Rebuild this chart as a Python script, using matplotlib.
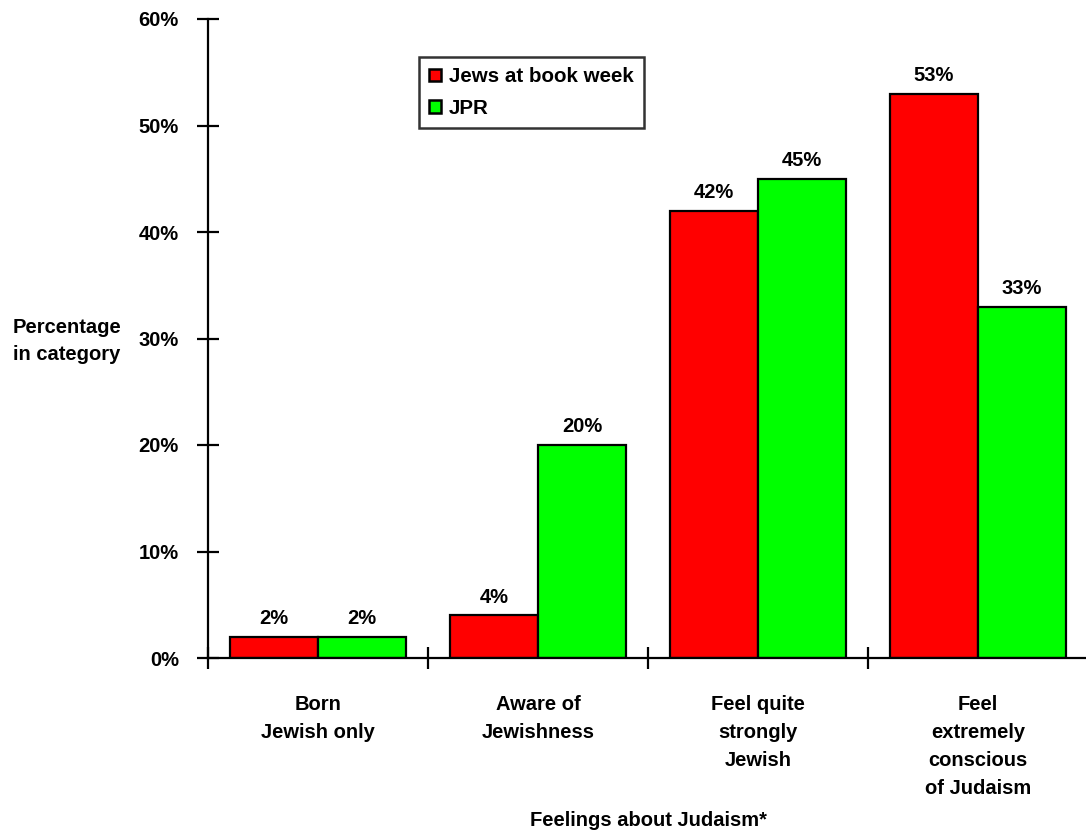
import numpy as np
import matplotlib.pyplot as plt
from matplotlib.patches import Patch

plt.rcParams['font.family'] = ['Liberation Sans', 'DejaVu Sans']
plt.rcParams['font.weight'] = 'bold'
FS = 14.5

categories = ["Born\nJewish only", "Aware of\nJewishness", "Feel quite\nstrongly\nJewish",
              "Feel\nextremely\nconscious\nof Judaism"]
book_week = [2, 4, 42, 53]
jpr = [2, 20, 45, 33]
series_names = ["Jews at book week", "JPR"]
colors = ["#ff0000", "#00ff00"]

fig = plt.figure(figsize=(10.86, 8.36), dpi=100)
ax = fig.add_axes([208/1086, 178/836, 880/1086, 639/836])

x = np.arange(len(categories))
w = 0.4
for vals, off, c in [(book_week, -w/2, colors[0]), (jpr, w/2, colors[1])]:
    bars = ax.bar(x + off, vals, width=w, color=c, edgecolor='black', linewidth=1.6)
    for b, v in zip(bars, vals):
        ax.text(b.get_x() + b.get_width()/2, v + 0.8, f"{v}%", ha='center', va='bottom',
                fontsize=FS, fontweight='bold')

ax.set_xlim(-0.5, 3.5)
ax.set_ylim(0, 60)
ax.set_yticks(range(0, 61, 10))
ax.set_yticklabels([f"{t}%" for t in range(0, 61, 10)], fontsize=FS, fontweight='bold')
ax.set_xticks(np.arange(-0.5, 3.6, 1.0))
ax.set_xticklabels([])
ax.tick_params(axis='both', direction='inout', length=16, width=1.6)
ax.tick_params(axis='y', pad=13)

for s in ['top', 'right']:
    ax.spines[s].set_visible(False)
for s in ['left', 'bottom']:
    ax.spines[s].set_linewidth(1.6)

for i, lab in enumerate(categories):
    ax.text(i, -3.45, lab, ha='center', va='top', fontsize=FS, fontweight='bold',
            linespacing=1.6, transform=ax.transData)

fig.text(648/1086, 1 - 820/836, "Feelings about Judaism*", ha='center', va='center',
         fontsize=FS, fontweight='bold')
fig.text(67/1086, 1 - 341/836, "Percentage\nin category", ha='center', va='center',
         fontsize=FS, fontweight='bold', linespacing=1.5)

handles = [Patch(facecolor=c, edgecolor='black', linewidth=1.8) for c in colors]
leg = ax.legend(handles, series_names, loc='upper left', bbox_to_anchor=(211/880, (658-57)/639),
                frameon=True, fancybox=False, edgecolor='black', fontsize=14.8,
                handlelength=0.55, handleheight=0.55, handletextpad=0.4, borderpad=0.5,
                labelspacing=0.6, borderaxespad=0)
leg.get_frame().set_linewidth(1.8)
for t in leg.get_texts():
    t.set_fontweight('bold')

fig.savefig("out.png", dpi=100)
